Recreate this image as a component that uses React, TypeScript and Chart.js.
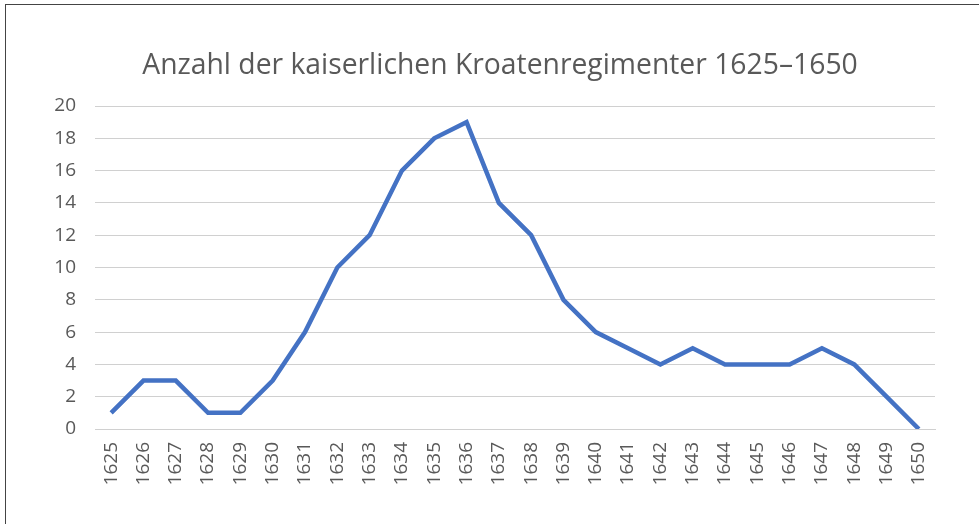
import React, { useEffect, useRef } from "react";
import { Chart, registerables } from "chart.js";

Chart.register(...registerables);

const TITLE = "Anzahl der kaiserlichen Kroatenregimenter 1625–1650";
const YEARS = [
  "1625", "1626", "1627", "1628", "1629", "1630", "1631", "1632", "1633",
  "1634", "1635", "1636", "1637", "1638", "1639", "1640", "1641", "1642",
  "1643", "1644", "1645", "1646", "1647", "1648", "1649", "1650",
];
const REGIMENTS = [1, 3, 3, 1, 1, 3, 6, 10, 12, 16, 18, 19, 14, 12, 8, 6, 5, 4, 5, 4, 4, 4, 5, 4, 2, 0];
const Y_MIN = 0;
const Y_MAX = 20;
const Y_STEP = 2;

const FONT = "'Open Sans', 'Noto Sans', sans-serif";
const TEXT = "#595959";
const TICK_SIZE = 19;

Chart.defaults.font.family = FONT;
Chart.defaults.font.size = TICK_SIZE;
Chart.defaults.color = TEXT;

const titlePlugin = {
  id: "centeredTitle",
  afterDraw(chart: any) {
    const ctx = chart.ctx;
    ctx.save();
    ctx.font = `normal 28.3px ${FONT}`;
    ctx.fillStyle = TEXT;
    ctx.textAlign = "center";
    ctx.textBaseline = "alphabetic";
    ctx.fillText(TITLE, 500, 74);
    ctx.restore();
  },
};

export default function App() {
  const ref = useRef<HTMLCanvasElement | null>(null);

  useEffect(() => {
    if (!ref.current) return;
    const chart = new Chart(ref.current, {
      type: "line",
      data: {
        labels: YEARS,
        datasets: [
          {
            data: REGIMENTS,
            borderColor: "#4472C4",
            borderWidth: 4.5,
            pointRadius: 0,
            tension: 0,
            fill: false,
          },
        ],
      },
      options: {
        responsive: false,
        animation: false,
        layout: { padding: { top: 106, right: 44, bottom: 0, left: 0 } },
        plugins: {
          legend: { display: false },
          tooltip: { enabled: false },
          title: { display: false },
        },
        scales: {
          x: {
            offset: true,
            grid: { display: false, drawTicks: false },
            border: { display: true, color: "#D0D0D0", width: 1 },
            ticks: {
              color: TEXT,
              font: { family: FONT, size: TICK_SIZE },
              minRotation: 90,
              maxRotation: 90,
              padding: 13,
              autoSkip: false,
            },
            afterFit: (s: any) => {
              s.height = 95;
            },
          },
          y: {
            min: Y_MIN,
            max: Y_MAX,
            grid: { color: "#D0D0D0", drawTicks: false },
            border: { display: false },
            ticks: {
              stepSize: Y_STEP,
              color: TEXT,
              font: { family: FONT, size: TICK_SIZE },
              padding: 19,
            },
            afterFit: (s: any) => {
              s.width = 95;
            },
          },
        },
      },
      plugins: [titlePlugin],
    });
    return () => chart.destroy();
  }, []);

  return (
    <div style={{ position: "absolute", left: 0, top: 0, width: 979, height: 524, background: "#fff" }}>
      <canvas ref={ref} width={979} height={524} style={{ position: "absolute", left: 0, top: 0 }} />
      <div style={{ position: "absolute", left: 5, top: 4, width: 974, height: 1, background: "#444" }} />
      <div style={{ position: "absolute", left: 5, top: 4, width: 1, height: 520, background: "#444" }} />
    </div>
  );
}
